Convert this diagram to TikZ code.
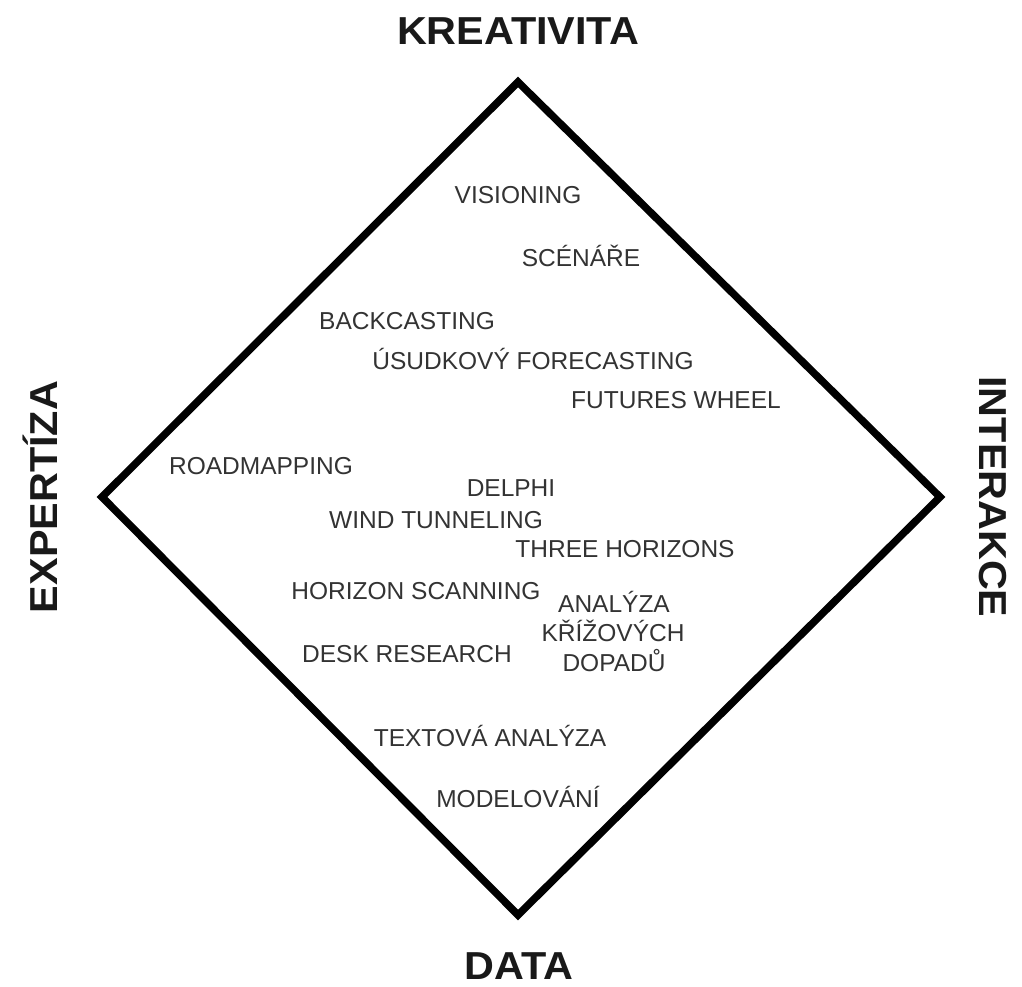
\documentclass[tikz,border=0pt]{standalone}
\usepackage{fontspec}
\setmainfont{Liberation Sans}
\newcommand{\widen}[1]{\scalebox{1.06}[1]{#1}}
\begin{document}
\begin{tikzpicture}[x=1pt,y=-1pt,
  lbl/.style={anchor=base,inner sep=0pt,text=black!80,font=\fontsize{24.5}{29}\selectfont},
  axis/.style={anchor=base,inner sep=0pt,text=black!90,font=\fontsize{39}{44}\selectfont\bfseries}]
\useasboundingbox (0,0) rectangle (1022,986);
\coordinate (T) at (518,82);
\coordinate (R) at (940,497);
\coordinate (B) at (518,915);
\coordinate (L) at (102,497);
\draw[line width=7.5pt,miter limit=10] (T) -- (R) -- (B) -- (L) -- cycle;
\node[axis] (kre) at (518,44) {\widen{KREATIVITA}};
\node[axis] (dat) at (519,979) {\widen{DATA}};
\node[axis,rotate=90] (exp) at (57,497) {\widen{EXPERTÍZA}};
\node[axis,rotate=-90] (int) at (979,497) {\widen{INTERAKCE}};
\node[lbl] (vis) at (518,203) {VISIONING};
\node[lbl] (sce) at (581,266) {SCÉNÁŘE};
\node[lbl] (bac) at (407,329) {BACKCASTING};
\node[lbl] (usu) at (533,369) {ÚSUDKOVÝ FORECASTING};
\node[lbl] (fut) at (676,408) {FUTURES WHEEL};
\node[lbl] (roa) at (261,474) {ROADMAPPING};
\node[lbl] (del) at (511,496) {DELPHI};
\node[lbl] (win) at (436,528) {WIND TUNNELING};
\node[lbl] (thr) at (625,557) {THREE HORIZONS};
\node[lbl] (hor) at (416,599) {HORIZON SCANNING};
\node[lbl] (an1) at (614,612) {ANALÝZA};
\node[lbl] (an2) at (613,641) {KŘÍŽOVÝCH};
\node[lbl] (an3) at (614,671) {DOPADŮ};
\node[lbl] (des) at (407,662) {DESK RESEARCH};
\node[lbl] (tex) at (490,746) {TEXTOVÁ ANALÝZA};
\node[lbl] (mod) at (518,807) {MODELOVÁNÍ};
\end{tikzpicture}
\end{document}
